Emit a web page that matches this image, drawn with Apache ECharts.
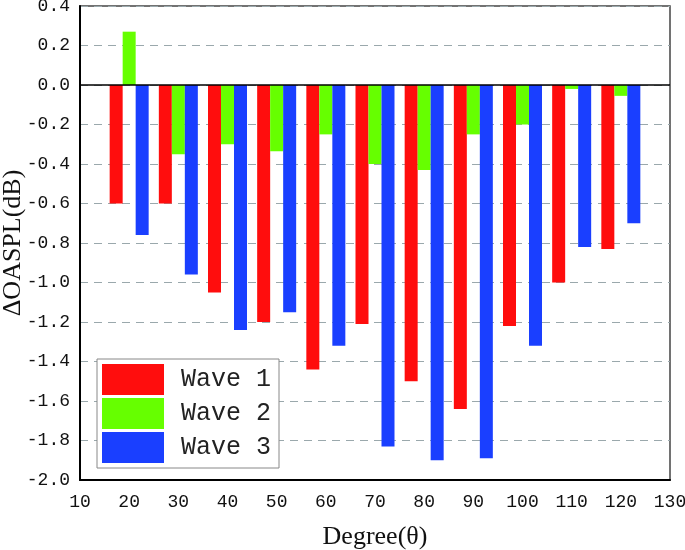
<!DOCTYPE html>
<html>
<head>
<meta charset="utf-8">
<script src="https://cdn.jsdelivr.net/npm/echarts@6/dist/echarts.min.js"></script>
<style>html,body{margin:0;padding:0;background:#fff;}#c{width:685px;height:550px;}</style>
</head>
<body>
<div id="c"></div>
<script>
const categories = [20, 30, 40, 50, 60, 70, 80, 90, 100, 110, 120];
const wave1 = [-0.60, -0.60, -1.05, -1.20, -1.44, -1.21, -1.50, -1.64, -1.22, -1.00, -0.83];
const wave2 = [0.27, -0.35, -0.30, -0.335, -0.25, -0.40, -0.43, -0.25, -0.20, -0.02, -0.055];
const wave3 = [-0.76, -0.96, -1.24, -1.15, -1.32, -1.83, -1.90, -1.89, -1.32, -0.82, -0.70];
const seriesNames = ['Wave 1', 'Wave 2', 'Wave 3'];
const colors = ['#ff0d0d', '#66ff00', '#1a3fff'];

const chart = echarts.init(document.getElementById('c'));
const pairs = arr => categories.map((c, i) => [c, arr[i]]);
const tickFont = { fontFamily: 'Liberation Mono', fontSize: 18, color: '#111' };

const series = [wave1, wave2, wave3].map((arr, i) => ({
  name: seriesNames[i],
  type: 'bar',
  data: pairs(arr),
  barWidth: 13,
  barGap: '0%',
  itemStyle: { color: colors[i] }
}));
series[0].markLine = {
  silent: true,
  symbol: ['none', 'none'],
  label: { show: false },
  lineStyle: { color: '#000', type: 'solid', width: 1.5 },
  data: [{ yAxis: 0 }]
};

chart.setOption({
  animation: false,
  backgroundColor: '#fff',
  grid: { left: 80, top: 6, right: 15, bottom: 70, containLabel: false, outerBoundsMode: 'none',
          show: true, borderColor: '#444', borderWidth: 1.5 },
  legend: {
    orient: 'vertical',
    left: 97, top: 359,
    itemWidth: 62, itemHeight: 31, itemGap: 3,
    padding: [5, 8, 5, 5],
    borderColor: '#888', borderWidth: 1,
    backgroundColor: '#fff',
    icon: 'rect',
    textStyle: { fontFamily: 'Liberation Mono', fontSize: 25, color: '#222', padding: [0, 0, 0, 12] },
    data: seriesNames
  },
  xAxis: {
    type: 'value', min: 10, max: 130, interval: 10,
    name: 'Degree(θ)', nameLocation: 'middle', nameGap: 44, nameMoveOverlap: false,
    nameTextStyle: { fontFamily: 'Liberation Serif', fontSize: 26, color: '#111' },
    axisLine: { show: true, onZero: false, lineStyle: { color: '#000', width: 2 } },
    axisTick: { show: false },
    axisLabel: Object.assign({ margin: 13 }, tickFont),
    splitLine: { show: false }
  },
  yAxis: {
    type: 'value', min: -2.0, max: 0.4, interval: 0.2,
    name: 'ΔOASPL(dB)', nameLocation: 'middle', nameGap: 54, nameMoveOverlap: false,
    nameTextStyle: { fontFamily: 'Liberation Serif', fontSize: 26, color: '#111' },
    axisLine: { show: true, onZero: false, lineStyle: { color: '#000', width: 2 } },
    axisTick: { show: false },
    axisLabel: Object.assign({ margin: 10, formatter: v => v.toFixed(1) }, tickFont),
    splitLine: { show: true, lineStyle: { color: '#9aa8ac', type: [8, 6], width: 1.2 } }
  },
  series: series
});
</script>
</body>
</html>
